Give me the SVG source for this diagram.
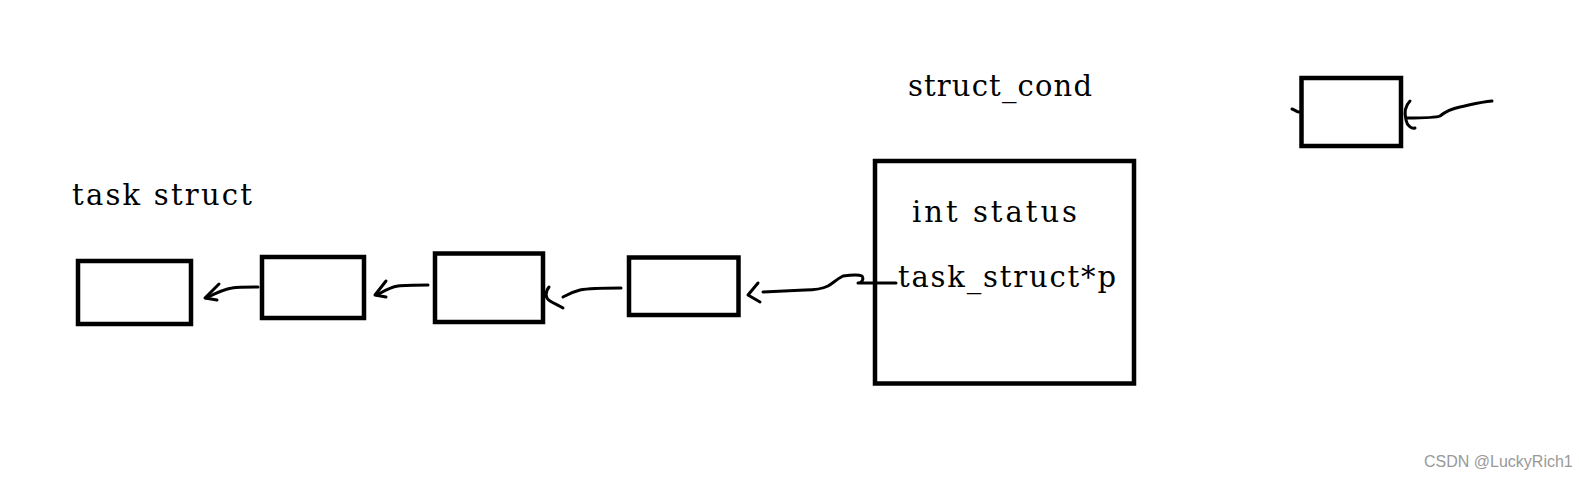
<svg xmlns="http://www.w3.org/2000/svg" width="1579" height="478" viewBox="0 0 1579 478">
<style>
.box{fill:#fff;stroke:#000;stroke-width:4.5}
.lbl{font-family:"DejaVu Serif","Liberation Serif",serif;font-size:29px;fill:#000}
.con{fill:none;stroke:#000;stroke-width:3;stroke-linecap:round;stroke-linejoin:round}
.wm{font-family:"Liberation Sans",Arial,sans-serif;font-size:16px;fill:#999}
</style>
<rect width="1579" height="478" fill="#fff"/>
<text class="lbl" x="72" y="205" textLength="180" lengthAdjust="spacing">task struct</text>
<g id="node1"><rect class="box" x="78" y="261" width="113" height="63"/></g>
<g id="node2"><rect class="box" x="262" y="257" width="102" height="61"/></g>
<g id="node3"><rect class="box" x="435" y="253.5" width="108" height="68.5"/></g>
<g id="node4"><rect class="box" x="629" y="257.5" width="109.5" height="57.5"/></g>
<g id="struct_cond">
<text class="lbl" x="908" y="96" textLength="184" lengthAdjust="spacing">struct_cond</text>
<rect class="box" x="875" y="161" width="259" height="222.5"/>
<text class="lbl" x="912" y="222" textLength="165" lengthAdjust="spacing">int status</text>
<text class="lbl" x="898" y="287" textLength="218" lengthAdjust="spacing">task_struct*p</text>
</g>
<g id="node5"><rect class="box" x="1301.5" y="78" width="99.5" height="68"/></g>
<g id="connectors">
<path class="con" d="M258,287 C248,287 238,287 232,288 C224,289 216,293 206,298"/>
<path class="con" d="M219,284 L205,298 L217,300"/>
<path class="con" d="M428,285 C415,285 405,285 398,286 C390,287 384,291 377,295"/>
<path class="con" d="M386,281 L375,295 L386,297"/>
<path class="con" d="M621,288 C605,288 590,288 580,290 C572,292 567,295 563,297"/>
<path class="con" d="M549,287 C545,292 545,298 550,301 C555,304 560,306 563,308"/>
<path class="con" d="M896,283 L858,283 C862,283 864,279 862,276 C858,274 850,275 843,276 C837,279 833,283 828,286 C822,289 815,290 805,290 L763,292"/>
<path class="con" d="M758,283 L748,295 L760,302"/>
<path class="con" d="M1492,101 C1480,102 1470,105 1460,107 C1450,109 1445,112 1440,116 C1436,118 1425,118 1407,118"/>
<path class="con" d="M1410,101 C1405,106 1404,112 1406,120 C1407,126 1412,129 1415,128"/>
<path class="con" d="M1292,109 C1295,110 1297,112 1299,112"/>
</g>
<text class="wm" x="1424" y="467">CSDN @LuckyRich1</text>
</svg>
